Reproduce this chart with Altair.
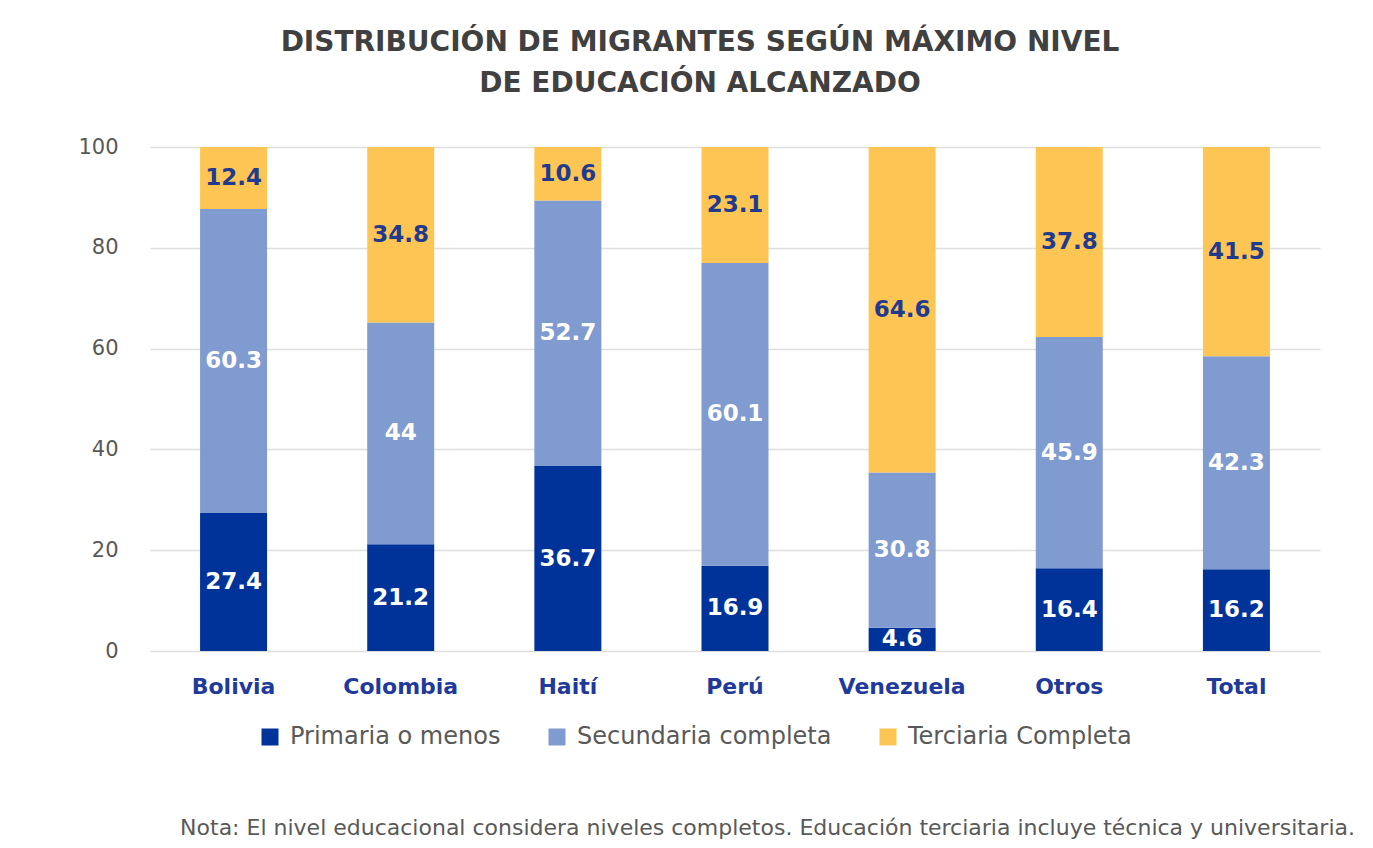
import altair as alt
import pandas as pd

countries = ["Bolivia", "Colombia", "Haití", "Perú", "Venezuela", "Otros", "Total"]
levels = ["Primaria o menos", "Secundaria completa", "Terciaria Completa"]
primaria = [27.4, 21.2, 36.7, 16.9, 4.6, 16.4, 16.2]
secundaria = [60.3, 44, 52.7, 60.1, 30.8, 45.9, 42.3]
terciaria = [12.4, 34.8, 10.6, 23.1, 64.6, 37.8, 41.5]
colors = ["#003399", "#7f9bd0", "#fdc654"]
label_colors = ["#ffffff", "#ffffff", "#1f3a8f"]

title_lines = ["DISTRIBUCIÓN DE MIGRANTES SEGÚN MÁXIMO NIVEL", "DE EDUCACIÓN ALCANZADO"]
note = "Nota: El nivel educacional considera niveles completos. Educación terciaria incluye técnica y universitaria."

rows = []
for i, c in enumerate(countries):
    for j, (lvl, vals) in enumerate(zip(levels, [primaria, secundaria, terciaria])):
        rows.append({"pais": c, "nivel": lvl, "orden": j, "valor": vals[i],
                     "etiqueta": f"{vals[i]:g}", "lcolor": label_colors[j]})
df = pd.DataFrame(rows)

FONT = "DejaVu Sans"

base = alt.Chart(df).transform_stack(
    stack="valor", groupby=["pais"], as_=["y0", "y1"], sort=[alt.SortField("orden", "ascending")]
).transform_calculate(mid="(datum.y0 + datum.y1) / 2")

x = alt.X("pais:N", sort=countries, title=None,
          axis=alt.Axis(labelAngle=0, labelFont=FONT, labelFontSize=22, labelFontWeight="bold",
                        labelColor="#1f3a9a", labelPadding=25, ticks=False, domain=False))
yscale = alt.Scale(domain=[0, 100], clamp=True, nice=False)

bars = base.mark_bar(size=67).encode(
    x=x,
    y=alt.Y("y0:Q", scale=yscale, title=None,
            axis=alt.Axis(values=[0, 20, 40, 60, 80, 100], labelFont=FONT, labelFontSize=21,
                          labelColor="#595959", labelPadding=32, ticks=False, domain=False,
                          grid=True, gridColor="#dedede", gridWidth=1.5)),
    y2="y1:Q",
    color=alt.Color("nivel:N", sort=levels, scale=alt.Scale(domain=levels, range=colors),
                    legend=alt.Legend(title=None, orient="none", direction="horizontal",
                                      legendX=108, legendY=578, padding=0, symbolType="square",
                                      symbolSize=289, symbolStrokeWidth=0, labelFont=FONT,
                                      labelFontSize=24, labelColor="#595959", labelLimit=0,
                                      columnPadding=44, labelOffset=8)),
)

labels = base.mark_text(font=FONT, fontSize=23, fontWeight="bold").encode(
    x=alt.X("pais:N", sort=countries),
    y=alt.Y("mid:Q", scale=yscale),
    text="etiqueta:N",
    color=alt.Color("lcolor:N", scale=None),
)

note_df = pd.DataFrame({"t": [note]})
note_mark = alt.Chart(note_df).mark_text(font=FONT, fontSize=22, color="#595959",
                                         align="right", baseline="middle").encode(
    text="t:N", x=alt.value(1205), y=alt.value(681))

chart = alt.layer(bars, labels, note_mark).properties(
    width=1170, height=504,
    title=alt.TitleParams(title_lines, font=FONT, fontSize=28, fontWeight="bold",
                          color="#404040", anchor="middle", dx=-35, offset=38, lineHeight=41),
    autosize=alt.AutoSizeParams(type="none"),
    padding={"left": 142, "top": 139, "right": 40, "bottom": 189},
).configure_view(stroke=None)

chart.save("out.html", embed_options={"renderer": "svg", "actions": False})
